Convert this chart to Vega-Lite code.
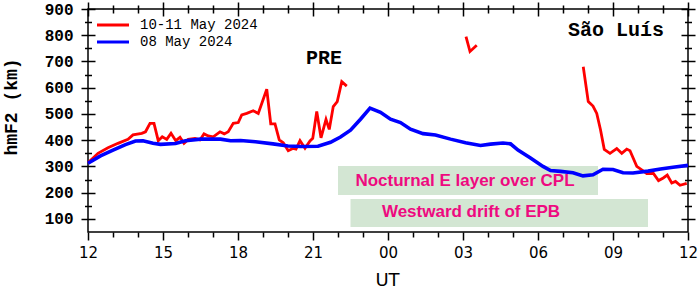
{
  "$schema": "https://vega.github.io/schema/vega-lite/v6.json",
  "width": 600,
  "height": 223,
  "autosize": {"type": "none"},
  "padding": {"left": 88, "top": 9, "right": 11, "bottom": 56},
  "background": "white",
  "config": {
    "view": {"stroke": "#000", "strokeWidth": 1.5},
    "axis": {"grid": false, "domain": false, "tickColor": "#000", "tickWidth": 1.5, "labelColor": "#000", "titleColor": "#000", "labelFlush": false, "labelOverlap": false}
  },
  "datasets": {
    "lines": [
      {"series": "10-11 May 2024", "seg": 1, "h": 0, "v": 314},
      {"series": "10-11 May 2024", "seg": 1, "h": 0.4, "v": 350},
      {"series": "10-11 May 2024", "seg": 1, "h": 0.8, "v": 371},
      {"series": "10-11 May 2024", "seg": 1, "h": 1.2, "v": 388},
      {"series": "10-11 May 2024", "seg": 1, "h": 1.6, "v": 403},
      {"series": "10-11 May 2024", "seg": 1, "h": 1.8, "v": 420},
      {"series": "10-11 May 2024", "seg": 1, "h": 2.15, "v": 426},
      {"series": "10-11 May 2024", "seg": 1, "h": 2.3, "v": 432},
      {"series": "10-11 May 2024", "seg": 1, "h": 2.48, "v": 464},
      {"series": "10-11 May 2024", "seg": 1, "h": 2.64, "v": 464},
      {"series": "10-11 May 2024", "seg": 1, "h": 2.81, "v": 398},
      {"series": "10-11 May 2024", "seg": 1, "h": 2.97, "v": 413},
      {"series": "10-11 May 2024", "seg": 1, "h": 3.15, "v": 403},
      {"series": "10-11 May 2024", "seg": 1, "h": 3.32, "v": 426},
      {"series": "10-11 May 2024", "seg": 1, "h": 3.51, "v": 398},
      {"series": "10-11 May 2024", "seg": 1, "h": 3.68, "v": 411},
      {"series": "10-11 May 2024", "seg": 1, "h": 3.84, "v": 388},
      {"series": "10-11 May 2024", "seg": 1, "h": 4.01, "v": 403},
      {"series": "10-11 May 2024", "seg": 1, "h": 4.28, "v": 407},
      {"series": "10-11 May 2024", "seg": 1, "h": 4.48, "v": 401},
      {"series": "10-11 May 2024", "seg": 1, "h": 4.64, "v": 424},
      {"series": "10-11 May 2024", "seg": 1, "h": 4.81, "v": 416},
      {"series": "10-11 May 2024", "seg": 1, "h": 5.01, "v": 413},
      {"series": "10-11 May 2024", "seg": 1, "h": 5.28, "v": 432},
      {"series": "10-11 May 2024", "seg": 1, "h": 5.45, "v": 424},
      {"series": "10-11 May 2024", "seg": 1, "h": 5.61, "v": 432},
      {"series": "10-11 May 2024", "seg": 1, "h": 5.81, "v": 464},
      {"series": "10-11 May 2024", "seg": 1, "h": 6.01, "v": 467},
      {"series": "10-11 May 2024", "seg": 1, "h": 6.15, "v": 496},
      {"series": "10-11 May 2024", "seg": 1, "h": 6.35, "v": 502},
      {"series": "10-11 May 2024", "seg": 1, "h": 6.61, "v": 512},
      {"series": "10-11 May 2024", "seg": 1, "h": 6.81, "v": 502},
      {"series": "10-11 May 2024", "seg": 1, "h": 7.15, "v": 594},
      {"series": "10-11 May 2024", "seg": 1, "h": 7.31, "v": 462},
      {"series": "10-11 May 2024", "seg": 1, "h": 7.48, "v": 462},
      {"series": "10-11 May 2024", "seg": 1, "h": 7.65, "v": 401},
      {"series": "10-11 May 2024", "seg": 1, "h": 7.81, "v": 390},
      {"series": "10-11 May 2024", "seg": 1, "h": 8.01, "v": 360},
      {"series": "10-11 May 2024", "seg": 1, "h": 8.21, "v": 369},
      {"series": "10-11 May 2024", "seg": 1, "h": 8.32, "v": 366},
      {"series": "10-11 May 2024", "seg": 1, "h": 8.48, "v": 398},
      {"series": "10-11 May 2024", "seg": 1, "h": 8.68, "v": 369},
      {"series": "10-11 May 2024", "seg": 1, "h": 8.88, "v": 397},
      {"series": "10-11 May 2024", "seg": 1, "h": 8.99, "v": 407},
      {"series": "10-11 May 2024", "seg": 1, "h": 9.15, "v": 509},
      {"series": "10-11 May 2024", "seg": 1, "h": 9.32, "v": 409},
      {"series": "10-11 May 2024", "seg": 1, "h": 9.52, "v": 479},
      {"series": "10-11 May 2024", "seg": 1, "h": 9.65, "v": 441},
      {"series": "10-11 May 2024", "seg": 1, "h": 9.81, "v": 528},
      {"series": "10-11 May 2024", "seg": 1, "h": 9.97, "v": 547},
      {"series": "10-11 May 2024", "seg": 1, "h": 10.15, "v": 623},
      {"series": "10-11 May 2024", "seg": 1, "h": 10.35, "v": 606},
      {"series": "10-11 May 2024", "seg": 2, "h": 15.12, "v": 795},
      {"series": "10-11 May 2024", "seg": 2, "h": 15.28, "v": 738},
      {"series": "10-11 May 2024", "seg": 2, "h": 15.55, "v": 762},
      {"series": "10-11 May 2024", "seg": 3, "h": 19.81, "v": 680},
      {"series": "10-11 May 2024", "seg": 3, "h": 20.01, "v": 547},
      {"series": "10-11 May 2024", "seg": 3, "h": 20.2, "v": 530},
      {"series": "10-11 May 2024", "seg": 3, "h": 20.35, "v": 502},
      {"series": "10-11 May 2024", "seg": 3, "h": 20.5, "v": 440},
      {"series": "10-11 May 2024", "seg": 3, "h": 20.65, "v": 365},
      {"series": "10-11 May 2024", "seg": 3, "h": 20.88, "v": 350},
      {"series": "10-11 May 2024", "seg": 3, "h": 21.15, "v": 368},
      {"series": "10-11 May 2024", "seg": 3, "h": 21.35, "v": 350},
      {"series": "10-11 May 2024", "seg": 3, "h": 21.55, "v": 366},
      {"series": "10-11 May 2024", "seg": 3, "h": 21.68, "v": 360},
      {"series": "10-11 May 2024", "seg": 3, "h": 21.95, "v": 300},
      {"series": "10-11 May 2024", "seg": 3, "h": 22.15, "v": 287},
      {"series": "10-11 May 2024", "seg": 3, "h": 22.35, "v": 273},
      {"series": "10-11 May 2024", "seg": 3, "h": 22.61, "v": 274},
      {"series": "10-11 May 2024", "seg": 3, "h": 22.82, "v": 246},
      {"series": "10-11 May 2024", "seg": 3, "h": 23.01, "v": 256},
      {"series": "10-11 May 2024", "seg": 3, "h": 23.17, "v": 267},
      {"series": "10-11 May 2024", "seg": 3, "h": 23.35, "v": 237},
      {"series": "10-11 May 2024", "seg": 3, "h": 23.5, "v": 243},
      {"series": "10-11 May 2024", "seg": 3, "h": 23.68, "v": 228},
      {"series": "10-11 May 2024", "seg": 3, "h": 23.95, "v": 235},
      {"series": "08 May 2024", "seg": 4, "h": 0, "v": 312},
      {"series": "08 May 2024", "seg": 4, "h": 0.5, "v": 340},
      {"series": "08 May 2024", "seg": 4, "h": 1.0, "v": 362},
      {"series": "08 May 2024", "seg": 4, "h": 1.5, "v": 383},
      {"series": "08 May 2024", "seg": 4, "h": 1.9, "v": 397},
      {"series": "08 May 2024", "seg": 4, "h": 2.2, "v": 398},
      {"series": "08 May 2024", "seg": 4, "h": 2.6, "v": 388},
      {"series": "08 May 2024", "seg": 4, "h": 2.9, "v": 384},
      {"series": "08 May 2024", "seg": 4, "h": 3.5, "v": 387},
      {"series": "08 May 2024", "seg": 4, "h": 3.9, "v": 398},
      {"series": "08 May 2024", "seg": 4, "h": 4.5, "v": 404},
      {"series": "08 May 2024", "seg": 4, "h": 5.3, "v": 404},
      {"series": "08 May 2024", "seg": 4, "h": 5.7, "v": 398},
      {"series": "08 May 2024", "seg": 4, "h": 6.1, "v": 399},
      {"series": "08 May 2024", "seg": 4, "h": 6.7, "v": 394},
      {"series": "08 May 2024", "seg": 4, "h": 7.4, "v": 386},
      {"series": "08 May 2024", "seg": 4, "h": 8.0, "v": 378},
      {"series": "08 May 2024", "seg": 4, "h": 8.5, "v": 376},
      {"series": "08 May 2024", "seg": 4, "h": 9.2, "v": 377},
      {"series": "08 May 2024", "seg": 4, "h": 9.7, "v": 392},
      {"series": "08 May 2024", "seg": 4, "h": 10.1, "v": 412},
      {"series": "08 May 2024", "seg": 4, "h": 10.5, "v": 438},
      {"series": "08 May 2024", "seg": 4, "h": 10.9, "v": 480},
      {"series": "08 May 2024", "seg": 4, "h": 11.28, "v": 522},
      {"series": "08 May 2024", "seg": 4, "h": 11.7, "v": 506},
      {"series": "08 May 2024", "seg": 4, "h": 12.1, "v": 480},
      {"series": "08 May 2024", "seg": 4, "h": 12.5, "v": 467},
      {"series": "08 May 2024", "seg": 4, "h": 12.9, "v": 442},
      {"series": "08 May 2024", "seg": 4, "h": 13.4, "v": 425},
      {"series": "08 May 2024", "seg": 4, "h": 13.9, "v": 420},
      {"series": "08 May 2024", "seg": 4, "h": 14.5, "v": 404},
      {"series": "08 May 2024", "seg": 4, "h": 15.1, "v": 390},
      {"series": "08 May 2024", "seg": 4, "h": 15.7, "v": 380},
      {"series": "08 May 2024", "seg": 4, "h": 16.1, "v": 385},
      {"series": "08 May 2024", "seg": 4, "h": 16.6, "v": 389},
      {"series": "08 May 2024", "seg": 4, "h": 16.9, "v": 386},
      {"series": "08 May 2024", "seg": 4, "h": 17.2, "v": 362},
      {"series": "08 May 2024", "seg": 4, "h": 17.7, "v": 332},
      {"series": "08 May 2024", "seg": 4, "h": 18.2, "v": 300},
      {"series": "08 May 2024", "seg": 4, "h": 18.5, "v": 284},
      {"series": "08 May 2024", "seg": 4, "h": 18.9, "v": 281},
      {"series": "08 May 2024", "seg": 4, "h": 19.4, "v": 276},
      {"series": "08 May 2024", "seg": 4, "h": 19.8, "v": 264},
      {"series": "08 May 2024", "seg": 4, "h": 20.2, "v": 268},
      {"series": "08 May 2024", "seg": 4, "h": 20.6, "v": 289},
      {"series": "08 May 2024", "seg": 4, "h": 21.0, "v": 288},
      {"series": "08 May 2024", "seg": 4, "h": 21.4, "v": 276},
      {"series": "08 May 2024", "seg": 4, "h": 21.8, "v": 275},
      {"series": "08 May 2024", "seg": 4, "h": 22.4, "v": 282},
      {"series": "08 May 2024", "seg": 4, "h": 22.9, "v": 290},
      {"series": "08 May 2024", "seg": 4, "h": 23.4, "v": 297},
      {"series": "08 May 2024", "seg": 4, "h": 24.0, "v": 304}
    ],
    "boxes": [
      {"x1": 10.0, "x2": 20.4, "y1": 191, "y2": 302, "label": "Nocturnal E layer over CPL", "tx": 15.08, "ty": 243},
      {"x1": 10.5, "x2": 22.4, "y1": 69, "y2": 176, "label": "Westward drift of EPB", "tx": 15.32, "ty": 126}
    ],
    "labels": [
      {"tx": 8.72, "ty": 690, "label": "PRE"},
      {"tx": 19.2, "ty": 797, "label": "São Luís"}
    ]
  },
  "layer": [
    {
      "data": {"name": "boxes"},
      "mark": {"type": "rect", "fill": "#d3e6d3"},
      "encoding": {
        "x": {"field": "x1", "type": "quantitative", "scale": {"domain": [0, 24], "nice": false, "zero": false}, "axis": null},
        "x2": {"field": "x2"},
        "y": {"field": "y1", "type": "quantitative", "scale": {"domain": [50, 900], "nice": false, "zero": false}, "axis": null},
        "y2": {"field": "y2"}
      }
    },
    {
      "data": {"name": "boxes"},
      "mark": {"type": "text", "font": "Liberation Sans", "fontWeight": "bold", "fontSize": 17, "fill": "#ee0a80", "align": "center", "baseline": "middle"},
      "encoding": {
        "x": {"field": "tx", "type": "quantitative", "axis": null},
        "y": {"field": "ty", "type": "quantitative", "axis": null},
        "text": {"field": "label"}
      }
    },
    {
      "data": {"name": "labels"},
      "mark": {"type": "text", "font": "Liberation Mono", "fontWeight": "bold", "fontSize": 20, "fill": "#000", "align": "left", "baseline": "alphabetic"},
      "encoding": {
        "x": {"field": "tx", "type": "quantitative", "axis": null},
        "y": {"field": "ty", "type": "quantitative", "axis": null},
        "text": {"field": "label"}
      }
    },
    {
      "data": {"name": "lines"},
      "transform": [{"filter": "datum.series === '10-11 May 2024'"}],
      "mark": {"type": "line", "strokeWidth": 2.8, "interpolate": "linear"},
      "encoding": {
        "x": {
          "field": "h", "type": "quantitative",
          "scale": {"domain": [0, 24], "nice": false, "zero": false},
          "axis": {
            "orient": "bottom",
            "values": [0,1,2,3,4,5,6,7,8,9,10,11,12,13,14,15,16,17,18,19,20,21,22,23,24],
            "labelExpr": "datum.value % 3 === 0 ? ((((datum.value + 12) % 24) < 10) ? '0' : '') + ((datum.value + 12) % 24) : ''",
            "tickSize": 8,
            "tickDash": {"condition": {"test": "datum.value % 3 !== 0", "value": [5, 30]}, "value": [30, 1]},
            "labelFont": "DejaVu Sans", "labelFontSize": 15, "labelPadding": 5,
            "title": "UT", "titleFont": "DejaVu Sans", "titleFontSize": 18, "titleFontWeight": "normal",
            "titleX": 299, "titleY": 53, "titleAlign": "center", "titleBaseline": "alphabetic"
          }
        },
        "y": {
          "field": "v", "type": "quantitative",
          "scale": {"domain": [50, 900], "nice": false, "zero": false},
          "axis": {
            "orient": "left",
            "values": [100,150,200,250,300,350,400,450,500,550,600,650,700,750,800,850,900],
            "offset": -7,
            "tickSize": 14,
            "tickDash": {"condition": {"test": "datum.value % 100 !== 0", "value": [0, 3.5, 7, 30]}, "value": [30, 1]},
            "labelExpr": "datum.value % 100 === 0 ? datum.label : ''",
            "labelFont": "Liberation Mono", "labelFontWeight": "bold", "labelFontSize": 16, "labelPadding": 8,
            "title": "hmF2 (km)", "titleFont": "Liberation Mono", "titleFontSize": 18, "titleFontWeight": "bold",
            "titleX": -84, "titleY": 97.5, "titleAngle": -90, "titleAlign": "center", "titleBaseline": "middle"
          }
        },
        "color": {
          "field": "series", "type": "nominal",
          "scale": {"domain": ["10-11 May 2024", "08 May 2024"], "range": ["#ff0000", "#0000ff"]},
          "legend": {
            "orient": "none", "legendX": 18, "legendY": 9, "title": null, "padding": 0,
            "symbolType": "M-4,0H4", "symbolSize": 64, "symbolStrokeWidth": 3,
            "labelFont": "Liberation Mono", "labelFontSize": 14, "labelOffset": 20, "rowPadding": 3, "labelColor": "#000"
          }
        },
        "detail": {"field": "seg", "type": "nominal"}
      }
    },
    {
      "data": {"name": "lines"},
      "transform": [{"filter": "datum.series === '08 May 2024'"}],
      "mark": {"type": "line", "strokeWidth": 3.6, "interpolate": "linear"},
      "encoding": {
        "x": {
          "field": "h", "type": "quantitative",
          "scale": {"domain": [0, 24], "nice": false, "zero": false},
          "axis": {
            "orient": "top",
            "values": [0,1,2,3,4,5,6,7,8,9,10,11,12,13,14,15,16,17,18,19,20,21,22,23,24],
            "offset": -7,
            "tickSize": 14,
            "tickDash": {"condition": {"test": "datum.value % 3 !== 0", "value": [0, 3, 8, 30]}, "value": [30, 1]},
            "labels": false, "title": null
          }
        },
        "y": {
          "field": "v", "type": "quantitative",
          "scale": {"domain": [50, 900], "nice": false, "zero": false},
          "axis": {
            "orient": "right",
            "values": [100,150,200,250,300,350,400,450,500,550,600,650,700,750,800,850,900],
            "offset": -7,
            "tickSize": 14,
            "tickDash": {"condition": {"test": "datum.value % 100 !== 0", "value": [0, 3.5, 7, 30]}, "value": [30, 1]},
            "labels": false, "title": null
          }
        },
        "color": {
          "field": "series", "type": "nominal",
          "scale": {"domain": ["10-11 May 2024", "08 May 2024"], "range": ["#ff0000", "#0000ff"]}
        },
        "detail": {"field": "seg", "type": "nominal"}
      }
    }
  ],
  "resolve": {"axis": {"x": "independent", "y": "independent"}}
}
